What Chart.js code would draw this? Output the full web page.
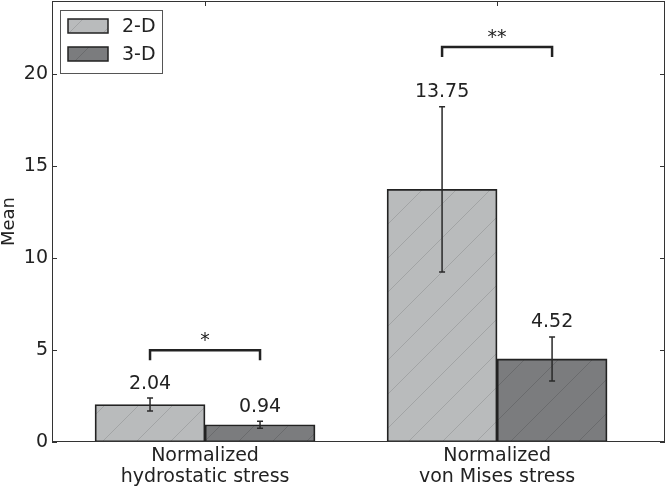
<!DOCTYPE html>
<html lang="en">
<head>
<meta charset="UTF-8">
<title>Mean normalized stress</title>
<script src="https://cdn.jsdelivr.net/npm/chart.js"></script>
<style>
  html, body { margin: 0; padding: 0; background: #fff; }
  #wrap { width: 666px; height: 488px; }
</style>
</head>
<body>
<div id="wrap"><canvas id="stressChart" width="666" height="488"></canvas></div>
<script>
// data
const categories = [['Normalized', 'hydrostatic stress'], ['Normalized', 'von Mises stress']];
const categoryPos = [0, 1];
const seriesNames = ['2-D', '3-D'];
const means2D = [2.04, 13.75];
const means3D = [0.94, 4.52];
const err2D = [0.35, 4.5];
const err3D = [0.19, 1.2];
const sigMarks = ['*', '**'];
const sigLevels = [5, 21.5];
const yTicks = [0, 5, 10, 15, 20];

const FONT = 'DejaVu Sans';
const TEXT = '#222';
const EDGE = '#222';

function hatch(fill, line) {
  const s = 34;
  const c = document.createElement('canvas');
  c.width = s; c.height = s;
  const g = c.getContext('2d');
  g.fillStyle = fill;
  g.fillRect(0, 0, s, s);
  g.strokeStyle = line;
  g.lineWidth = 1;
  g.beginPath();
  for (let k = -1; k <= 1; k++) {
    g.moveTo(k * s, s);
    g.lineTo(k * s + s, 0);
  }
  g.stroke();
  return g.createPattern(c, 'repeat');
}

const hatches = [hatch('#b9bbbc', '#a2a4a5'), hatch('#7b7c7e', '#6a6b6d')];
const means = [means2D, means3D];
const errs = [err2D, err3D];

const extras = {
  id: 'extras',
  afterDatasetsDraw(chart) {
    const ctx = chart.ctx;
    const y = chart.scales.y;
    const x = chart.scales.x;
    const a = chart.chartArea;
    ctx.save();

    // error bars + value labels
    means.forEach((vals, d) => {
      const meta = chart.getDatasetMeta(d);
      vals.forEach((v, i) => {
        const bar = meta.data[i];
        const top = y.getPixelForValue(v + errs[d][i]);
        const bot = y.getPixelForValue(v - errs[d][i]);
        ctx.strokeStyle = '#2a2a2a';
        ctx.lineWidth = 1.5;
        ctx.beginPath();
        ctx.moveTo(bar.x, top); ctx.lineTo(bar.x, bot);
        ctx.moveTo(bar.x - 3, top); ctx.lineTo(bar.x + 3, top);
        ctx.moveTo(bar.x - 3, bot); ctx.lineTo(bar.x + 3, bot);
        ctx.stroke();
        ctx.fillStyle = TEXT;
        ctx.font = '19px "' + FONT + '"';
        ctx.textAlign = 'center';
        ctx.textBaseline = 'bottom';
        ctx.fillText(v.toFixed(2), bar.x, top - 5);
      });
    });

    // significance brackets
    sigLevels.forEach((lvl, i) => {
      const x0 = chart.getDatasetMeta(0).data[i].x;
      const x1 = chart.getDatasetMeta(1).data[i].x;
      const yy = y.getPixelForValue(lvl);
      ctx.strokeStyle = EDGE;
      ctx.lineWidth = 2.5;
      ctx.beginPath();
      ctx.moveTo(x0, yy + 10); ctx.lineTo(x0, yy); ctx.lineTo(x1, yy); ctx.lineTo(x1, yy + 10);
      ctx.stroke();
      ctx.fillStyle = TEXT;
      ctx.font = '19px "' + FONT + '"';
      ctx.textAlign = 'center';
      ctx.textBaseline = 'alphabetic';
      ctx.fillText(sigMarks[i], (x0 + x1) / 2, yy - 4);
    });

    // frame and inward ticks
    ctx.strokeStyle = '#333';
    ctx.lineWidth = 1;
    ctx.strokeRect(a.left + 0.5, a.top + 0.5, a.right - a.left - 1, a.bottom - a.top - 1);
    ctx.beginPath();
    yTicks.forEach(t => {
      const py = Math.round(y.getPixelForValue(t)) + 0.5;
      ctx.moveTo(a.left, py); ctx.lineTo(a.left + 5, py);
      ctx.moveTo(a.right, py); ctx.lineTo(a.right - 5, py);
    });
    categoryPos.forEach(p => {
      const px = Math.round(x.getPixelForValue(p)) + 0.5;
      ctx.moveTo(px, a.top); ctx.lineTo(px, a.top + 5);
    });
    ctx.stroke();

    // legend
    const lx = 60, ly = 10;
    ctx.fillStyle = '#fff';
    ctx.fillRect(lx, ly, 102, 63);
    ctx.strokeStyle = '#555';
    ctx.lineWidth = 1;
    ctx.strokeRect(lx + 0.5, ly + 0.5, 102, 63);
    seriesNames.forEach((name, d) => {
      const py = ly + 9 + d * 28;
      ctx.fillStyle = hatches[d];
      ctx.fillRect(lx + 8, py, 40, 14);
      ctx.strokeStyle = EDGE;
      ctx.lineWidth = 1.5;
      ctx.strokeRect(lx + 8, py, 40, 14);
      ctx.fillStyle = TEXT;
      ctx.font = '19px "' + FONT + '"';
      ctx.textAlign = 'left';
      ctx.textBaseline = 'middle';
      ctx.fillText(name, lx + 62, py + 8);
    });
    ctx.restore();
  }
};

const ctx = document.getElementById('stressChart').getContext('2d');
new Chart(ctx, {
  type: 'bar',
  data: {
    datasets: seriesNames.map((name, d) => ({
      label: name,
      data: categoryPos.map((p, i) => ({ x: p, y: means[d][i] })),
      backgroundColor: hatches[d],
      borderColor: EDGE,
      borderWidth: 1.8,
      borderSkipped: false,
      barThickness: 110
    }))
  },
  options: {
    responsive: false,
    animation: false,
    layout: { padding: { top: 1, right: 1, left: 0, bottom: 0 } },
    plugins: { legend: { display: false }, tooltip: { enabled: false } },
    scales: {
      x: {
        type: 'linear',
        min: -0.524,
        max: 1.575,
        offset: false,
        grid: { display: false, drawTicks: false },
        border: { display: false },
        afterBuildTicks: s => { s.ticks = categoryPos.map(v => ({ value: v })); },
        afterFit: s => { s.height = 46; s.paddingLeft = 0; s.paddingRight = 0; },
        ticks: {
          callback: (v, i) => categories[i],
          font: { family: FONT, size: 19, lineHeight: 1.12 },
          color: TEXT,
          padding: 3,
          maxRotation: 0,
          autoSkip: false
        }
      },
      y: {
        min: 0,
        max: 24,
        grid: { display: false, drawTicks: false },
        border: { display: false },
        afterBuildTicks: s => { s.ticks = yTicks.map(v => ({ value: v })); },
        afterFit: s => { s.width = 52; s.paddingTop = 0; s.paddingBottom = 0; },
        ticks: {
          font: { family: FONT, size: 19 },
          color: TEXT,
          padding: 4
        },
        title: {
          display: true,
          text: 'Mean',
          font: { family: FONT, size: 18, lineHeight: 1 },
          color: TEXT,
          padding: 0
        }
      }
    }
  },
  plugins: [extras]
});
</script>
</body>
</html>
